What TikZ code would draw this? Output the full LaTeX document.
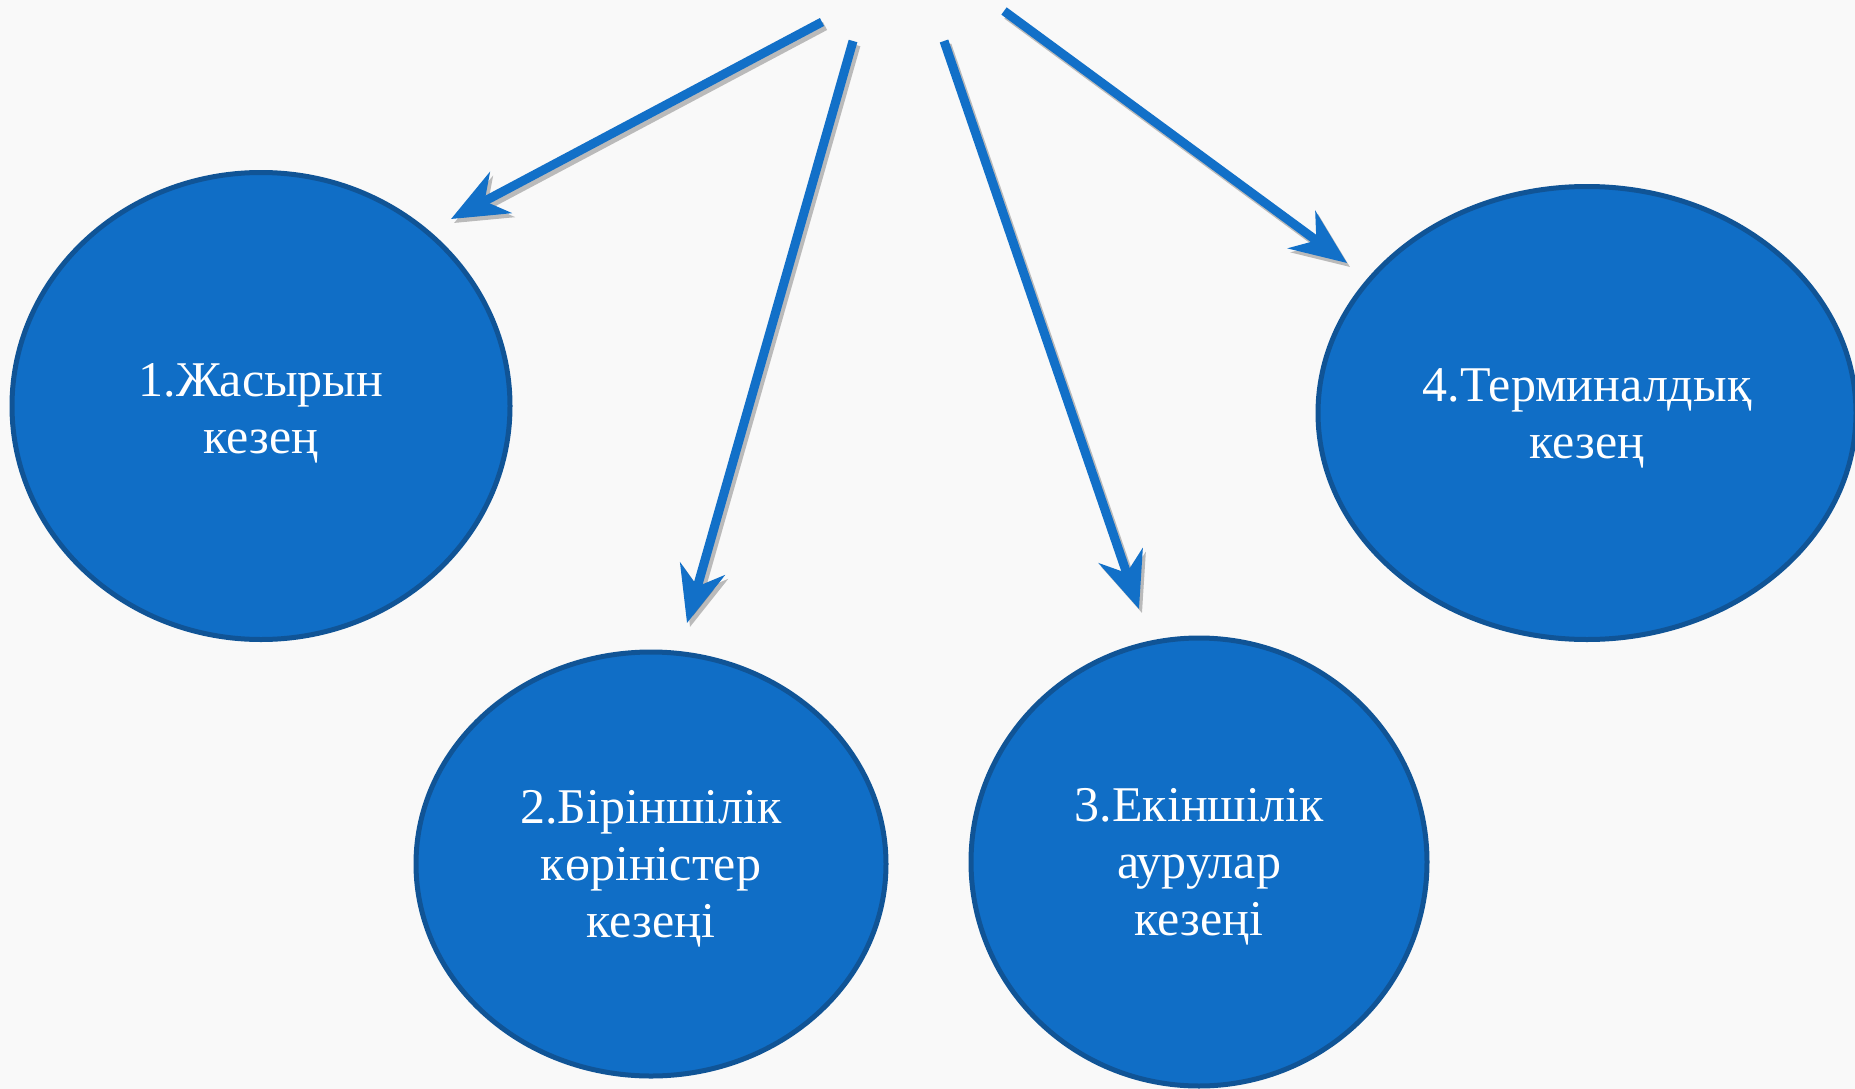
\documentclass[tikz,border=0pt]{standalone}
\usepackage{fontspec}
\setmainfont{Liberation Serif}
\usetikzlibrary{shapes.geometric,arrows.meta}
\definecolor{bgc}{RGB}{249,249,249}
\definecolor{fillblue}{RGB}{16,110,198}
\definecolor{edgeblue}{RGB}{16,84,150}
\definecolor{arrowblue}{RGB}{18,112,200}
\tikzset{
  stage/.style={ellipse, fill=fillblue, draw=edgeblue, line width=5pt, inner sep=0pt},
  stagetext/.style={text=white, align=center, inner sep=0pt, font=\fontsize{50}{57}\selectfont},
  arr/.style={draw=arrowblue, line width=9pt, line cap=butt,
    -{Stealth[length=56pt, width=46pt, inset=18pt]}},
  arrshadow/.style={draw=black, opacity=0.25, line width=9pt,
    -{Stealth[length=56pt, width=46pt, inset=18pt]},
    transform canvas={xshift=3pt, yshift=-4pt}},
}
\begin{document}
\begin{tikzpicture}[x=1pt,y=-1pt]
\fill[bgc] (0,0) rectangle (1855,1089);
\useasboundingbox (0,0) rectangle (1855,1089);

\node[stage, minimum width=498pt, minimum height=467pt] (e1) at (261,406) {};
\node[stage, minimum width=470pt, minimum height=424pt] (e2) at (651,864) {};
\node[stage, minimum width=456pt, minimum height=448pt] (e3) at (1199,862) {};
\node[stage, minimum width=538pt, minimum height=453pt] (e4) at (1587,413) {};

\node[stagetext] (l1) at ([yshift=-7pt]e1.center) {1.Жасырын\\кезең};
\node[stagetext] (l2) at ([yshift=-5pt]e2.center) {2.Біріншілік\\көріністер\\кезеңі};
\node[stagetext] (l3) at ([yshift=-5pt]e3.center) {3.Екіншілік\\аурулар\\кезеңі};
\node[stagetext] (l4) at ([yshift=-5pt]e4.center) {4.Терминалдық\\кезең};

\coordinate (s1) at (822,22);  \coordinate (t1) at (451,219);
\coordinate (s2) at (853,41);  \coordinate (t2) at (687,623);
\coordinate (s3) at (944,41);  \coordinate (t3) at (1139,609);
\coordinate (s4) at (1004,11); \coordinate (t4) at (1347,263);

\draw[arrshadow] (s1) -- (t1);
\draw[arrshadow] (s2) -- (t2);
\draw[arrshadow] (s3) -- (t3);
\draw[arrshadow] (s4) -- (t4);

\draw[arr] (s1) -- (t1);
\draw[arr] (s2) -- (t2);
\draw[arr] (s3) -- (t3);
\draw[arr] (s4) -- (t4);
\end{tikzpicture}
\end{document}
